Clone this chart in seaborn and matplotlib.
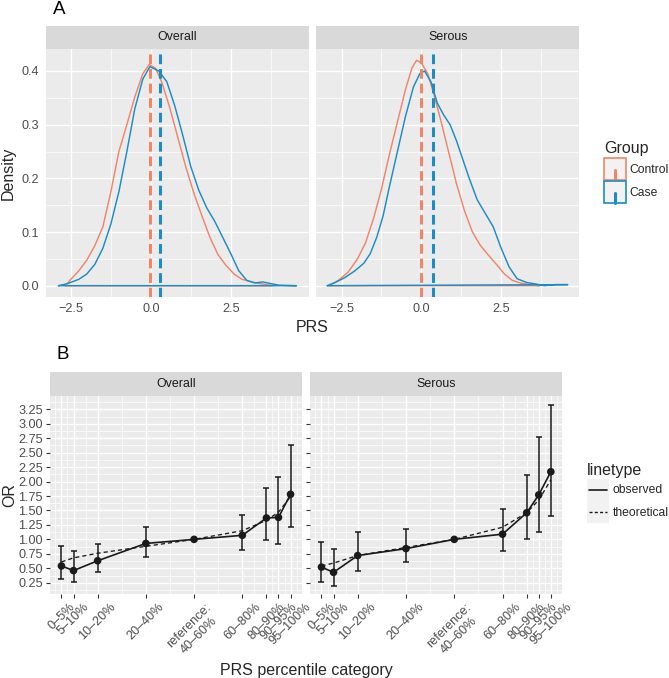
import numpy as np
import pandas as pd
import matplotlib
matplotlib.use("Agg")
import matplotlib.pyplot as plt
import seaborn as sns
from matplotlib.patches import Rectangle
from matplotlib.lines import Line2D
from matplotlib.legend_handler import HandlerBase
from matplotlib.ticker import FixedLocator

sns.set_theme(style="darkgrid")
plt.rcParams["font.family"] = ["Liberation Sans", "DejaVu Sans"]
plt.rcParams["lines.scale_dashes"] = False

CTRL = "#EE866A"
CASE = "#1C8CC2"
INK = "#1A1A1A"

# ---- panel A: density outlines (PRS, density)
ov_ctrl_x = [-2.68, -2.5, -2.25, -2.0, -1.75, -1.5, -1.25, -1.0, -0.75, -0.5, -0.25, -0.05,
             0.15, 0.35, 0.6, 0.85, 1.1, 1.35, 1.6, 1.85, 2.1, 2.35, 2.6, 2.85, 3.1, 3.4, 3.83]
ov_ctrl_y = [0.0, 0.012, 0.028, 0.048, 0.075, 0.11, 0.175, 0.25, 0.30, 0.352, 0.395, 0.412,
             0.405, 0.378, 0.33, 0.275, 0.22, 0.172, 0.13, 0.09, 0.058, 0.038, 0.022, 0.012,
             0.008, 0.004, 0.0]
ov_case_x = [-2.89, -2.6, -2.25, -2.0, -1.75, -1.5, -1.25, -1.0, -0.75, -0.5, -0.25, -0.03,
             0.25, 0.5, 0.75, 1.0, 1.25, 1.5, 1.75, 2.0, 2.25, 2.5, 2.75, 3.0, 3.25, 3.5,
             3.75, 4.0, 4.56]
ov_case_y = [0.0, 0.004, 0.012, 0.022, 0.04, 0.07, 0.115, 0.175, 0.25, 0.33, 0.385, 0.408,
             0.40, 0.38, 0.335, 0.28, 0.222, 0.178, 0.145, 0.12, 0.09, 0.06, 0.028, 0.01,
             0.005, 0.007, 0.004, 0.001, 0.0]
se_ctrl_x = [-2.9, -2.6, -2.3, -2.0, -1.75, -1.5, -1.25, -1.0, -0.75, -0.5, -0.3, -0.15,
             0.0, 0.2, 0.4, 0.6, 0.85, 1.1, 1.35, 1.6, 1.85, 2.1, 2.35, 2.6, 2.85, 3.1, 3.4, 3.7]
se_ctrl_y = [0.0, 0.01, 0.025, 0.05, 0.08, 0.125, 0.18, 0.245, 0.305, 0.365, 0.405, 0.42,
             0.415, 0.395, 0.355, 0.31, 0.25, 0.19, 0.14, 0.10, 0.075, 0.057, 0.04, 0.022,
             0.01, 0.005, 0.002, 0.0]
se_case_x = [-2.95, -2.7, -2.4, -2.1, -1.8, -1.6, -1.4, -1.2, -1.0, -0.75, -0.5, -0.25, -0.05,
             0.1, 0.3, 0.5, 0.7, 0.9, 1.1, 1.3, 1.5, 1.75, 2.0, 2.25, 2.5, 2.75, 3.0, 3.3,
             3.6, 3.85, 4.2, 4.59]
se_case_y = [0.0, 0.006, 0.015, 0.027, 0.042, 0.06, 0.09, 0.13, 0.185, 0.25, 0.315, 0.37,
             0.395, 0.40, 0.38, 0.34, 0.318, 0.30, 0.27, 0.235, 0.20, 0.16, 0.135, 0.11,
             0.07, 0.035, 0.013, 0.006, 0.003, 0.0, 0.002, 0.002]
mean_ctrl = [-0.02, 0.00]
mean_case = [0.29, 0.37]
facets = ["Overall", "Serous"]
groups = ["Control", "Case"]

# ---- panel B: odds ratio by PRS percentile category (x = upper percentile)
pct = [5, 10, 20, 40, 60, 80, 90, 95, 100]
pct_labels = ["0–5%", "5–10%", "10–20%", "20–40%", "reference:\n40–60%",
              "60–80%", "80–90%", "90–95%", "95–100%"]
ov_or = [0.54, 0.46, 0.63, 0.93, 1.00, 1.07, 1.37, 1.38, 1.78]
ov_lo = [0.31, 0.26, 0.43, 0.70, 1.00, 0.82, 0.99, 0.92, 1.22]
ov_hi = [0.89, 0.80, 0.92, 1.22, 1.00, 1.42, 1.89, 2.08, 2.63]
ov_theo = [0.61, 0.68, 0.76, 0.88, 1.00, 1.15, 1.33, 1.47, 1.74]
se_or = [0.52, 0.43, 0.72, 0.84, 1.00, 1.09, 1.46, 1.77, 2.17]
se_lo = [0.27, 0.20, 0.46, 0.60, 1.00, 0.80, 1.01, 1.12, 1.41]
se_hi = [0.96, 0.84, 1.12, 1.18, 1.00, 1.52, 2.11, 2.77, 3.32]
se_theo = [0.54, 0.59, 0.72, 0.86, 1.00, 1.21, 1.46, 1.68, 2.03]

curves = {("Overall", "Control"): (ov_ctrl_x, ov_ctrl_y),
          ("Overall", "Case"): (ov_case_x, ov_case_y),
          ("Serous", "Control"): (se_ctrl_x, se_ctrl_y),
          ("Serous", "Case"): (se_case_x, se_case_y)}
rows = []
for (fac, grp), (xs, ys) in curves.items():
    # geom_density style outline: curve, then back along the baseline
    for k, (x, y) in enumerate(list(zip(xs, ys)) + [(xs[0], 0.0)]):
        rows.append(dict(facet=fac, group=grp, k=k, prs=x, density=y))
dens = pd.DataFrame(rows)

orr = pd.concat([
    pd.DataFrame(dict(facet="Overall", pct=pct, OR=ov_or, lo=ov_lo, hi=ov_hi, theo=ov_theo)),
    pd.DataFrame(dict(facet="Serous", pct=pct, OR=se_or, lo=se_lo, hi=se_hi, theo=se_theo)),
])

W, H = 669, 678
fig = plt.figure(figsize=(W / 100, H / 100), dpi=100, facecolor="white")

TICK_FS = 9.1
STRIP_FS = 8.9
TITLE_FS = 11.5


def box(l, t, r, b):
    return [l / W, 1 - b / H, (r - l) / W, (b - t) / H]


def strip(l, t, r, b, label):
    s = fig.add_axes(box(l, t, r, b))
    s.set_facecolor("#D9D9D9")
    s.set_xticks([])
    s.set_yticks([])
    s.grid(False)
    for sp in s.spines.values():
        sp.set_visible(False)
    s.text(0.5, 0.5, label, ha="center", va="center", fontsize=STRIP_FS, color=INK,
           transform=s.transAxes)


def style_panel(ax):
    ax.set_facecolor("#EBEBEB")
    for sp in ax.spines.values():
        sp.set_visible(False)
    ax.set_axisbelow(True)
    ax.grid(True, which="major", color="white", lw=1.0)
    ax.grid(True, which="minor", color="white", lw=0.5)
    ax.tick_params(which="minor", length=0)
    ax.set_xlabel("")
    ax.set_ylabel("")


# ---------------- panel A
a_cols = [(45.7, 309.0), (316.4, 579.3)]
for i, fac in enumerate(facets):
    l, r = a_cols[i]
    strip(l, 25.7, r, 49.3, fac)
    ax = fig.add_axes(box(l, 49.3, r, 296.7))
    for grp, col in zip(groups, [CTRL, CASE]):
        d = dens[(dens.facet == fac) & (dens.group == grp)]
        sns.lineplot(data=d, x="prs", y="density", sort=False, estimator=None,
                     color=col, lw=1.05, ax=ax)
    ax.axvline(mean_ctrl[i], color=CTRL, lw=2.2, ls=(0, (7, 3.5)))
    ax.axvline(mean_case[i], color=CASE, lw=2.2, ls=(0, (7, 3.5)))
    ax.set_xlim(-3.29, 4.95)
    ax.set_ylim(-0.0205, 0.4404)
    ax.set_xticks([-2.5, 0.0, 2.5])
    ax.set_xticklabels(["−2.5", "0.0", "2.5"])
    ax.xaxis.set_minor_locator(FixedLocator([-1.25, 1.25, 3.75]))
    ax.set_yticks([0.0, 0.1, 0.2, 0.3, 0.4])
    ax.yaxis.set_minor_locator(FixedLocator([0.05, 0.15, 0.25, 0.35]))
    style_panel(ax)
    ax.tick_params(which="major", length=0, pad=4.5, labelsize=TICK_FS, labelcolor="#4D4D4D")
    if i == 1:
        ax.set_yticklabels([])

# ---------------- panel B
b_cols = [(50.0, 302.0), (310.0, 562.3)]
minor_x = [2.5] + [(a + b) / 2 for a, b in zip(pct[:-1], pct[1:])] + [102.5]
yt = np.arange(0.25, 3.26, 0.25)
for i, fac in enumerate(facets):
    l, r = b_cols[i]
    strip(l, 371.7, r, 396.0, fac)
    ax = fig.add_axes(box(l, 396.0, r, 594.0))
    d = orr[orr.facet == fac]
    ax.errorbar(d.pct, d.OR, yerr=[d.OR - d.lo, d.hi - d.OR], fmt="none", ecolor=INK,
                elinewidth=1.1, capsize=2.2, capthick=1.1, zorder=3)
    sns.lineplot(data=d, x="pct", y="theo", color=INK, lw=0.95, ls=(0, (3, 2.2)), ax=ax)
    sns.lineplot(data=d, x="pct", y="OR", color=INK, lw=1.2, ax=ax)
    sns.scatterplot(data=d, x="pct", y="OR", color=INK, s=30, edgecolor="none", ax=ax,
                    zorder=5)
    ax.set_xlim(0.25, 104.75)
    ax.set_ylim(0.055, 3.48)
    ax.set_xticks(pct)
    ax.set_xticklabels(pct_labels, rotation=45, ha="center", va="top")
    ax.xaxis.set_minor_locator(FixedLocator(minor_x))
    ax.set_yticks(yt)
    ax.set_yticklabels([f"{v:.2f}" for v in yt])
    ax.yaxis.set_minor_locator(FixedLocator(list(yt - 0.125) + [3.375]))
    style_panel(ax)
    ax.tick_params(which="major", bottom=True, left=True, length=3, width=0.8,
                   color="#333333", pad=2, labelsize=TICK_FS, labelcolor="#4D4D4D")
    if i == 1:
        ax.set_yticklabels([])

# ---------------- titles and axis labels
fig.text(52.7 / W, 1 - 13.5 / H, "A", fontsize=13.5, va="baseline", ha="left", color="black")
fig.text(56.7 / W, 1 - 359.5 / H, "B", fontsize=13.5, va="baseline", ha="left", color="black")
fig.text(8.5 / W, 1 - 173 / H, "Density", rotation=90, fontsize=TITLE_FS, ha="center",
         va="center")
fig.text(10 / W, 1 - 495 / H, "OR", rotation=90, fontsize=TITLE_FS, ha="center", va="center")
fig.text(312.5 / W, 1 - 331.7 / H, "PRS", fontsize=TITLE_FS, ha="center", va="baseline")
fig.text(306 / W, 1 - 675 / H, "PRS percentile category", fontsize=TITLE_FS, ha="center",
         va="baseline")


# ---------------- legends
class GroupKey(HandlerBase):
    def create_artists(self, legend, orig_handle, xdescent, ydescent, width, height,
                       fontsize, trans):
        col = orig_handle.get_color()
        bg = Rectangle((-xdescent, -ydescent), width, height, facecolor="#F2F2F2",
                       edgecolor=col, linewidth=1.2, transform=trans)
        tick = Line2D([-xdescent + width / 2] * 2, [-ydescent, -ydescent + height * 0.45],
                      color=col, linewidth=2.2, transform=trans)
        return [bg, tick]


class LineKey(HandlerBase):
    def create_artists(self, legend, orig_handle, xdescent, ydescent, width, height,
                       fontsize, trans):
        bg = Rectangle((-xdescent, -ydescent), width, height, facecolor="#F2F2F2",
                       edgecolor="none", transform=trans)
        ln = Line2D([], [])
        ln.update_from(orig_handle)
        ln.set_data([-xdescent + width * 0.1, -xdescent + width * 0.9],
                    [-ydescent + height / 2] * 2)
        ln.set_transform(trans)
        return [bg, ln]


LEG_FS = 8.7
h_group = [Line2D([], [], color=CTRL), Line2D([], [], color=CASE)]
fig.legend(h_group, groups, title="Group", loc="upper left",
           bbox_to_anchor=(604 / W, 1 - 141.5 / H), frameon=False, borderpad=0,
           borderaxespad=0, fontsize=LEG_FS, title_fontsize=TITLE_FS, handlelength=1.8,
           handleheight=2.4, handletextpad=0.3, labelspacing=0.12, alignment="left",
           handler_map={Line2D: GroupKey()})

h_lt = [Line2D([], [], color=INK, lw=1.2),
        Line2D([], [], color=INK, lw=1.0, ls=(0, (2.2, 1.6)))]
fig.legend(h_lt, ["observed", "theoretical"], title="linetype", loc="upper left",
           bbox_to_anchor=(587 / W, 1 - 463 / H), frameon=False, borderpad=0,
           borderaxespad=0, fontsize=LEG_FS, title_fontsize=TITLE_FS, handlelength=1.8,
           handleheight=2.4, handletextpad=0.35, labelspacing=0.06, alignment="left",
           handler_map={Line2D: LineKey()})

fig.savefig("out.png", dpi=100, facecolor="white")
